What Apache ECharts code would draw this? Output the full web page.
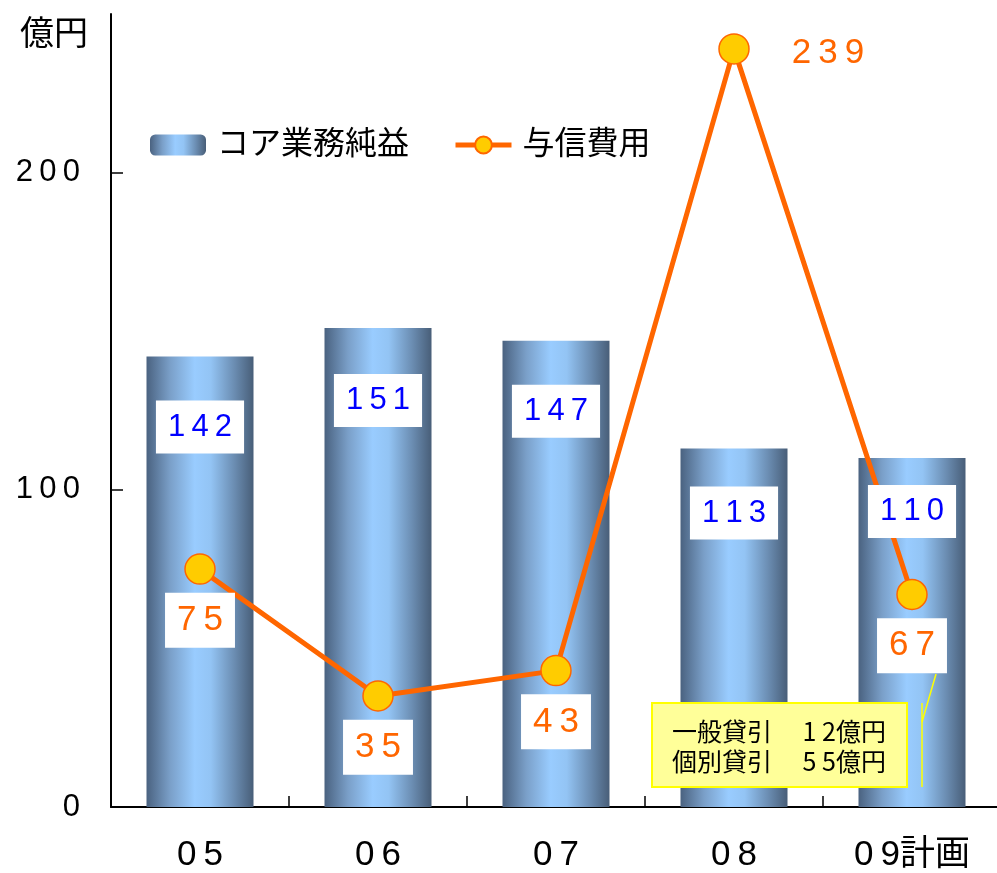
<!DOCTYPE html>
<html>
<head>
<meta charset="utf-8">
<script src="https://cdn.jsdelivr.net/npm/echarts@6/dist/echarts.min.js"></script>
<style>
  html, body { margin: 0; padding: 0; background: #fff; overflow: hidden; }
  #chart { width: 1004px; height: 873px; }
</style>
</head>
<body>
<div id="chart"></div>
<script>
// 年度
const categories = ['05', '06', '07', '08', '09計画'];
// コア業務純益（億円）
const coreProfit = [142, 151, 147, 113, 110];
// 与信費用（億円）
const creditCost = [75, 35, 43, 239, 67];
// 縦軸の目盛
const yTicks = [0, 100, 200];
// 09計画の与信費用内訳
const breakdownLines = ['一般貸引　 1 2億円', '個別貸引　 5 5億円'];

const FONT = "'Liberation Sans', 'Noto Sans CJK JP', sans-serif";
// digits are set with a thin gap between them
const spaced = s => String(s).replace(/(\d)(?=\d)/g, '$1\u2009');

// label offsets below each bar top (style only)
const barLabelDistance = [44, 46, 44, 38, 27];

const barGradient = {
  type: 'linear', x: 0, y: 0, x2: 1, y2: 0,
  colorStops: [
    { offset: 0, color: '#4A6280' },
    { offset: 0.22, color: '#7A9FC8' },
    { offset: 0.45, color: '#99CCFF' },
    { offset: 0.6, color: '#93C4F4' },
    { offset: 0.82, color: '#6B8DB2' },
    { offset: 1, color: '#485E78' }
  ]
};

const chart = echarts.init(document.getElementById('chart'), null, { renderer: 'canvas' });

const option = {
  animation: false,
  backgroundColor: '#fff',
  textStyle: { fontFamily: FONT },
  grid: { left: 111, top: 14, width: 890, bottom: 65, containLabel: false },
  legend: {
    data: ['コア業務純益', '与信費用'],
    left: 145,
    top: 124,
    itemWidth: 56,
    itemHeight: 21,
    itemGap: 44,
    lineStyle: { width: 5, color: '#FF6600' },
    textStyle: { fontSize: 32, color: '#000', fontFamily: FONT, padding: [0, 0, 0, 6] }
  },
  xAxis: {
    type: 'category',
    data: categories,
    axisLine: { lineStyle: { color: '#000', width: 2 } },
    axisTick: { show: true, inside: true, length: 11, lineStyle: { color: '#000', width: 1.5 } },
    axisLabel: {
      fontSize: 35, color: '#000', margin: 31, fontFamily: FONT,
      formatter: v => spaced(v)
    }
  },
  yAxis: {
    type: 'value',
    min: 0, max: 250, interval: 100,
    name: '億円',
    nameLocation: 'end',
    nameGap: -22,
    nameTextStyle: {
      fontSize: 34, color: '#000', fontFamily: FONT,
      align: 'right', verticalAlign: 'middle', padding: [0, 23, 0, 0]
    },
    splitLine: { show: false },
    axisLine: { show: true, lineStyle: { color: '#000', width: 2 } },
    axisTick: { show: true, inside: true, length: 12, customValues: yTicks, lineStyle: { color: '#000', width: 1.5 } },
    axisLabel: {
      fontSize: 31, color: '#000', margin: 31, fontFamily: FONT,
      customValues: yTicks,
      formatter: v => spaced(v)
    }
  },
  series: [
    {
      name: 'コア業務純益',
      type: 'bar',
      data: coreProfit,
      barWidth: 107,
      z: 2,
      itemStyle: { color: barGradient }
    },
    {
      name: '与信費用',
      type: 'line',
      z: 3,
      data: creditCost.map((v, i) => ({
        value: v,
        label: i === 3
          ? { position: 'right', distance: 30, offset: [0, 4], backgroundColor: 'transparent' }
          : {}
      })),
      symbol: 'circle',
      symbolSize: 30,
      lineStyle: { color: '#FF6600', width: 5 },
      itemStyle: { color: '#FFCC00', borderColor: '#FF6600', borderWidth: 1.5 },
      label: {
        show: true,
        position: 'bottom',
        distance: 8,
        formatter: p => spaced(p.value),
        fontSize: 35,
        lineHeight: 35,
        color: '#FF6600',
        fontFamily: FONT,
        backgroundColor: '#fff',
        padding: [10, 12]
      }
    },
    {
      // value boxes for the bars, kept above the line
      name: 'コア業務純益値',
      type: 'bar',
      z: 4,
      silent: true,
      barWidth: 107,
      barGap: '-100%',
      itemStyle: { color: 'transparent' },
      data: coreProfit.map((v, i) => ({
        value: v,
        label: { distance: barLabelDistance[i] }
      })),
      label: {
        show: true,
        position: 'insideTop',
        formatter: p => spaced(p.value),
        fontSize: 31,
        lineHeight: 31,
        color: '#0000FF',
        fontFamily: FONT,
        backgroundColor: '#fff',
        padding: [11, 12]
      }
    }
  ]
};

chart.setOption(option);

// 09計画の内訳注記
const cx = chart.convertToPixel({ xAxisIndex: 0 }, categories[4]);
const y0 = chart.convertToPixel({ yAxisIndex: 0 }, 0);
chart.setOption({
  graphic: [
    {
      type: 'rect', z: 10,
      shape: { x: cx - 260, y: y0 - 104, width: 255, height: 84 },
      style: { fill: '#FFFF99', stroke: '#FFFF00', lineWidth: 2 }
    },
    {
      type: 'text', z: 11,
      x: cx - 240, y: y0 - 60,
      style: {
        text: breakdownLines.join('\n'),
        font: "25px 'Noto Sans CJK JP', sans-serif",
        lineHeight: 30,
        fill: '#000',
        verticalAlign: 'middle'
      }
    },
    {
      type: 'line', z: 10,
      shape: { x1: cx + 10, y1: y0 - 104, x2: cx + 10, y2: y0 - 20 },
      style: { stroke: '#FFFF00', lineWidth: 1.5 }
    },
    {
      type: 'line', z: 10,
      shape: { x1: cx + 10, y1: y0 - 85, x2: cx + 24, y2: y0 - 133 },
      style: { stroke: '#FFFF00', lineWidth: 1.5 }
    }
  ]
});
</script>
</body>
</html>
